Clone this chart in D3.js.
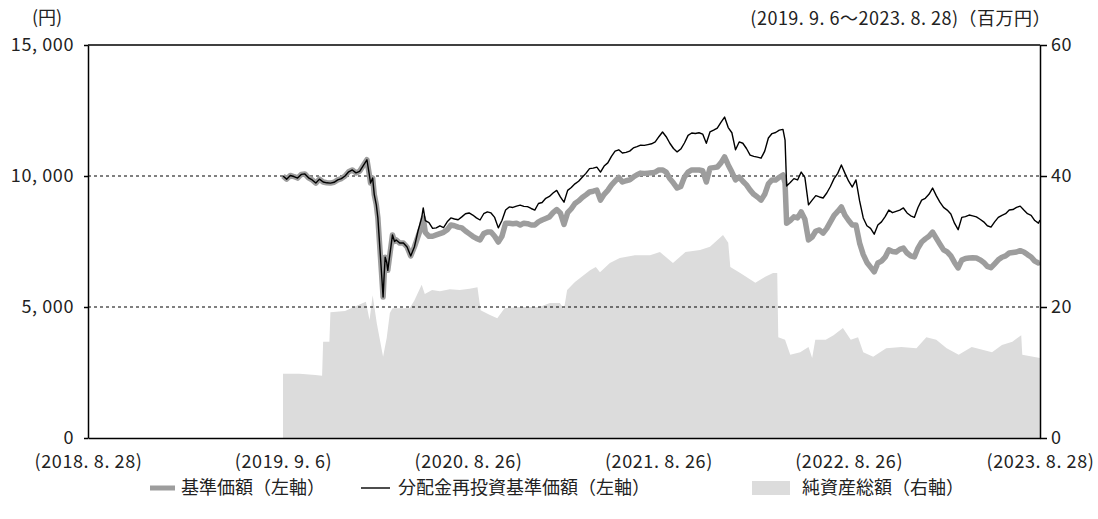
<!DOCTYPE html>
<html>
<head>
<meta charset="utf-8">
<script src="https://cdn.jsdelivr.net/npm/d3@7"></script>
<style>
  body { margin: 0; background: #fff; }
  text { font-family: "Noto Sans CJK JP", "Noto Sans", sans-serif; fill: #222; }
</style>
</head>
<body>
<div id="chart-area"></div>
<script>
// Weekly 基準価額 / 分配金再投資基準価額 (yen)
const navDates = [
  "2019-09-06","2019-09-13","2019-09-20","2019-09-27",
  "2019-10-04","2019-10-11","2019-10-18","2019-10-25",
  "2019-11-01","2019-11-08","2019-11-15","2019-11-22","2019-11-29",
  "2019-12-06","2019-12-13","2019-12-20","2019-12-27",
  "2020-01-03","2020-01-10","2020-01-17","2020-01-24","2020-01-31",
  "2020-02-07","2020-02-14","2020-02-19","2020-02-21","2020-02-25","2020-02-28",
  "2020-03-03","2020-03-06","2020-03-10","2020-03-13","2020-03-16","2020-03-18","2020-03-20","2020-03-23","2020-03-25","2020-03-27","2020-03-31",
  "2020-04-03","2020-04-07","2020-04-10","2020-04-17","2020-04-24",
  "2020-05-01","2020-05-08","2020-05-15","2020-05-22","2020-05-29",
  "2020-06-01","2020-06-05","2020-06-12","2020-06-19","2020-06-26",
  "2020-07-03","2020-07-10","2020-07-17","2020-07-24","2020-07-31",
  "2020-08-07","2020-08-14","2020-08-21","2020-08-28",
  "2020-09-04","2020-09-11","2020-09-18","2020-09-25",
  "2020-10-02","2020-10-09","2020-10-16","2020-10-23","2020-10-30",
  "2020-11-06","2020-11-13","2020-11-20","2020-11-27",
  "2020-12-04","2020-12-11","2020-12-18","2020-12-25",
  "2021-01-01","2021-01-08","2021-01-15","2021-01-22","2021-01-29",
  "2021-02-05","2021-02-12","2021-02-19","2021-02-26",
  "2021-03-05","2021-03-12","2021-03-19","2021-03-26",
  "2021-04-02","2021-04-09","2021-04-16","2021-04-23","2021-04-30",
  "2021-05-07","2021-05-14","2021-05-21","2021-05-28",
  "2021-06-04","2021-06-11","2021-06-18","2021-06-25",
  "2021-07-02","2021-07-09","2021-07-16","2021-07-23","2021-07-30",
  "2021-08-06","2021-08-13","2021-08-20","2021-08-27",
  "2021-09-03","2021-09-10","2021-09-17","2021-09-24",
  "2021-10-01","2021-10-08","2021-10-15","2021-10-22","2021-10-29",
  "2021-11-05","2021-11-12","2021-11-19","2021-11-26",
  "2021-12-03","2021-12-10","2021-12-17","2021-12-24","2021-12-31",
  "2022-01-07","2022-01-14","2022-01-21","2022-01-28",
  "2022-02-04","2022-02-11","2022-02-18","2022-02-25",
  "2022-03-04","2022-03-11","2022-03-18","2022-03-25",
  "2022-04-01","2022-04-08","2022-04-15","2022-04-22","2022-04-26","2022-04-29",
  "2022-05-06","2022-05-13","2022-05-20","2022-05-27",
  "2022-06-03","2022-06-10","2022-06-17","2022-06-24",
  "2022-07-01","2022-07-08","2022-07-15","2022-07-22","2022-07-29",
  "2022-08-05","2022-08-12","2022-08-19","2022-08-26",
  "2022-09-02","2022-09-09","2022-09-16","2022-09-23","2022-09-30",
  "2022-10-07","2022-10-14","2022-10-21","2022-10-28",
  "2022-11-04","2022-11-11","2022-11-18","2022-11-25",
  "2022-12-02","2022-12-09","2022-12-16","2022-12-23","2022-12-30",
  "2023-01-06","2023-01-13","2023-01-20","2023-01-27",
  "2023-02-03","2023-02-10","2023-02-17","2023-02-24",
  "2023-03-03","2023-03-10","2023-03-17","2023-03-24","2023-03-31",
  "2023-04-07","2023-04-14","2023-04-21","2023-04-28",
  "2023-05-05","2023-05-12","2023-05-19","2023-05-26",
  "2023-06-02","2023-06-09","2023-06-16","2023-06-23","2023-06-30",
  "2023-07-07","2023-07-14","2023-07-21","2023-07-28",
  "2023-08-04","2023-08-11","2023-08-18","2023-08-25","2023-08-28"
];

// 分配金再投資基準価額
const reinvested = [
  10000, 9880, 10020, 9980,
  9920, 10060, 10080, 9930,
  9850, 9730, 9880, 9770, 9740,
  9730, 9760, 9850, 9900,
  10000, 10160, 10230, 10120, 10180,
  10400, 10620, 10000, 9730, 9920, 9300,
  8900, 8400, 7200, 6300, 5380, 6200, 6900, 6700, 6400, 6700, 7300,
  7750, 7500, 7560, 7440, 7440,
  7290, 6950, 7290, 7900, 8400,
  8780, 8300, 8220, 8000, 8020,
  8100, 8030, 8250, 8400, 8360,
  8330, 8440, 8560, 8590,
  8510, 8400, 8320, 8560,
  8630, 8590, 8420, 8020, 8300,
  8700, 8820, 8800, 8850,
  8890, 8840, 8830, 8760,
  8700, 8950, 8990, 9150, 9220,
  9350, 9450, 9200, 9000,
  9450, 9560, 9700, 9800,
  9950, 10100, 10280, 10300, 10340,
  10150, 10380, 10500, 10750,
  10950, 11000, 10880, 10900,
  10950, 11070, 11120, 11180, 11170,
  11200, 11230, 11300, 11500,
  11680, 11500, 11250, 11050,
  10920, 11030, 11260, 11550, 11640,
  11620, 11650, 11600, 11250,
  11680, 11750, 11830, 12050, 12250,
  11850, 11650, 11000, 11300,
  11250, 11050, 10800, 10750,
  10720, 10680, 10950, 11450,
  11620, 11660, 11750, 11780, 11370, 9620,
  9750, 9900, 9850, 10150,
  9950, 8900, 9080, 9250,
  9200, 9160, 9350, 9600, 9900,
  10100, 10420, 10100, 9800,
  9580, 9850, 9050, 8400, 8100,
  8000, 7780, 8130, 8250,
  8450, 8700, 8600, 8650,
  8700, 8780, 8590, 8480, 8420,
  8800, 9080, 9150, 9300,
  9540, 9250, 9000, 8800,
  8700, 8550, 8200, 7950, 8420,
  8450, 8510, 8480, 8440,
  8350, 8250, 8100, 8050,
  8250, 8420, 8500, 8560, 8700,
  8720, 8800, 8850, 8700,
  8560, 8500, 8300, 8200, 8320
];

// 基準価額
const nav = [
  10000, 9880, 10020, 9980,
  9920, 10060, 10080, 9930,
  9850, 9730, 9880, 9770, 9740,
  9730, 9760, 9850, 9900,
  10000, 10160, 10230, 10120, 10180,
  10400, 10620, 10000, 9730, 9920, 9300,
  8900, 8400, 7200, 6300, 5380, 6200, 6900, 6700, 6400, 6700, 7300,
  7750, 7500, 7560, 7440, 7440,
  7290, 6950, 7290, 7700, 8100,
  8400, 7850, 7700, 7700, 7750,
  7800, 7850, 7950, 8130, 8100,
  8050, 8020, 7900, 7800,
  7700, 7620, 7560, 7800,
  7860, 7860, 7700, 7480, 7700,
  8200, 8200, 8180, 8200,
  8130, 8200, 8180, 8130,
  8130, 8250, 8320, 8380, 8440,
  8600, 8720, 8590, 8150,
  8600, 8750, 8950, 9050,
  9180, 9280, 9390, 9420, 9460,
  9080, 9300, 9450, 9650,
  9800, 9950, 9770, 9820,
  9850, 9960, 10050, 10110, 10100,
  10110, 10120, 10150, 10230,
  10230, 10150, 9900, 9730,
  9540, 9600, 9960, 10150, 10230,
  10230, 10230, 10200, 9770,
  10300, 10320, 10340, 10500, 10730,
  10420, 10150, 9850, 9960,
  9800, 9660, 9460, 9300,
  9200, 9080, 9300, 9700,
  9850, 9850, 9950, 10040, 9730, 8200,
  8300, 8440, 8400, 8630,
  8350, 7560, 7670, 7900,
  7940, 7820, 8000, 8250, 8500,
  8650, 8820, 8500, 8300,
  8130, 8130, 7440, 7000, 6700,
  6520, 6340, 6680, 6750,
  6900, 7180, 7120, 7100,
  7200, 7250, 7060, 6950, 6910,
  7250, 7480, 7600, 7700,
  7860, 7630, 7400, 7180,
  7100, 6950, 6700, 6490, 6790,
  6850, 6870, 6880, 6870,
  6800, 6700, 6550, 6500,
  6650, 6800, 6900, 6950, 7060,
  7080, 7100, 7150, 7100,
  7000, 6910, 6750, 6680, 6700
];

// 純資産総額 (百万円)
const assetDates = [
  "2019-09-06","2019-10-08","2019-11-07","2019-11-20","2019-11-22","2019-12-04","2019-12-06",
  "2020-01-03","2020-01-31","2020-02-12","2020-02-19","2020-02-25","2020-03-04","2020-03-16",
  "2020-03-23","2020-03-29","2020-04-03","2020-04-17","2020-05-06","2020-05-15","2020-05-29",
  "2020-06-04","2020-06-18","2020-07-03","2020-07-22","2020-08-10","2020-08-29","2020-09-13",
  "2020-09-19","2020-10-06","2020-10-21","2020-11-04","2020-12-03","2021-01-10","2021-01-30",
  "2021-02-18","2021-02-26","2021-03-04","2021-03-19","2021-04-17","2021-04-28","2021-05-06",
  "2021-05-25","2021-06-13","2021-07-12","2021-08-10","2021-08-29","2021-09-23","2021-10-17",
  "2021-11-14","2021-12-03","2021-12-28","2022-01-07","2022-01-11","2022-01-30","2022-02-28",
  "2022-03-19","2022-04-03","2022-04-11","2022-04-13","2022-04-26","2022-05-06","2022-05-25",
  "2022-06-10","2022-06-17","2022-06-23","2022-07-13","2022-07-28","2022-08-15","2022-08-30",
  "2022-09-13","2022-09-23","2022-10-12","2022-11-06","2022-12-05","2023-01-03","2023-01-22",
  "2023-02-10","2023-03-02","2023-03-25","2023-04-19","2023-05-28","2023-06-16","2023-07-06",
  "2023-07-23","2023-07-25","2023-08-28"
];
const assets = [
  9.8, 9.8, 9.6, 9.5, 14.7, 14.7, 19.2,
  19.4, 20.4, 20.8, 18.0, 21.8, 17.5, 12.4,
  15.3, 19.1, 19.8, 19.8, 19.8, 21.0, 23.4,
  22.0, 22.6, 22.4, 22.7, 22.6, 22.8, 23.0,
  19.5, 18.8, 18.3, 19.8, 20.0, 20.0, 20.6,
  20.6, 19.7, 22.6, 23.8, 25.6, 26.1, 25.3,
  26.7, 27.5, 27.9, 27.9, 28.4, 26.7, 28.4,
  28.7, 29.2, 31.0, 29.8, 26.1, 25.2, 23.7,
  24.6, 25.2, 25.2, 15.4, 15.0, 12.7, 13.1,
  13.9, 12.2, 15.0, 15.0, 15.7, 16.8, 15.0,
  15.4, 13.1, 12.4, 13.7, 13.9, 13.7, 15.4,
  15.0, 13.7, 12.7, 13.9, 13.1, 14.2, 14.7,
  15.7, 12.7, 12.2
];

// Axis ticks
const leftTicks = [0, 5000, 10000, 15000];
const leftLabels = ["0", "5, 000", "10, 000", "15, 000"];
const rightTicks = [0, 20, 40, 60];
const xTickDates = ["2018-08-28", "2019-09-06", "2020-08-26", "2021-08-26", "2022-08-26", "2023-08-28"];
const xTickLabels = ["(2018. 8. 28)", "(2019. 9. 6)", "(2020. 8. 26)", "(2021. 8. 26)", "(2022. 8. 26)", "(2023. 8. 28)"];

const parse = d3.timeParse("%Y-%m-%d");

const svg = d3.select('#chart-area')
  .append('svg')
    .attr('width', 1098)
    .attr('height', 519);

const margin = { left: 88, right: 58, top: 45, bottom: 81 };
const width = 1098 - margin.left - margin.right;
const height = 519 - margin.top - margin.bottom;

const area = svg.append('g')
  .attr('transform', 'translate(' + margin.left + ',' + margin.top + ')');

// Scales
const x = d3.scaleTime()
  .domain([parse("2018-08-28"), parse("2023-08-28")])
  .range([0, width]);

const yLeft = d3.scaleLinear().domain([0, 15000]).range([height, 0]);
const yRight = d3.scaleLinear().domain([0, 60]).range([height, 0]);

// Net assets area
const assetData = assetDates.map((d, i) => ({ date: parse(d), value: assets[i] }));
area.append('path')
  .datum(assetData)
  .attr('fill', '#dcdcdc')
  .attr('d', d3.area()
    .x(d => x(d.date))
    .y0(yRight(0))
    .y1(d => yRight(d.value)));

// Dashed grid
area.selectAll('.grid')
  .data([5000, 10000])
  .enter().append('line')
    .attr('x1', 0).attr('x2', width)
    .attr('y1', d => yLeft(d)).attr('y2', d => yLeft(d))
    .attr('stroke', '#000')
    .attr('stroke-width', 1)
    .attr('stroke-dasharray', '3,3');

// Lines
const navData = navDates.map((d, i) => ({ date: parse(d), nav: nav[i], re: reinvested[i] }));

area.append('path')
  .datum(navData)
  .attr('fill', 'none')
  .attr('stroke', '#9d9d9d')
  .attr('stroke-width', 5.5)
  .attr('stroke-linejoin', 'round')
  .attr('d', d3.line().x(d => x(d.date)).y(d => yLeft(d.nav)));

area.append('path')
  .datum(navData)
  .attr('fill', 'none')
  .attr('stroke', '#000')
  .attr('stroke-width', 1.4)
  .attr('stroke-linejoin', 'round')
  .attr('d', d3.line().x(d => x(d.date)).y(d => yLeft(d.re)));

// Frame top
area.append('line')
  .attr('x1', 0).attr('x2', width)
  .attr('y1', 0).attr('y2', 0)
  .attr('stroke', '#000').attr('stroke-width', 1.5);

// Axes
const yLeftAxis = d3.axisLeft(yLeft)
  .tickValues(leftTicks)
  .tickFormat((d, i) => leftLabels[i])
  .tickSize(4)
  .tickSizeOuter(0)
  .tickPadding(10);
const gl = area.append('g').call(yLeftAxis);

const yRightAxis = d3.axisRight(yRight)
  .tickValues(rightTicks)
  .tickSize(7)
  .tickSizeOuter(0)
  .tickPadding(4);
const gr = area.append('g')
  .attr('transform', 'translate(' + width + ',0)')
  .call(yRightAxis);

const xAxis = d3.axisBottom(x)
  .tickValues(xTickDates.map(parse))
  .tickFormat((d, i) => xTickLabels[i])
  .tickSize(0)
  .tickSizeOuter(0)
  .tickPadding(17);
const gx = area.append('g')
  .attr('transform', 'translate(0,' + height + ')')
  .call(xAxis);

[gl, gr, gx].forEach(g => {
  g.select('.domain').attr('stroke', '#000').attr('stroke-width', 1.5);
  g.selectAll('.tick line').attr('stroke', '#000').attr('stroke-width', 1.5);
  g.selectAll('text')
    .attr('font-family', '"Noto Sans CJK JP", sans-serif')
    .attr('font-size', '18px')
    .attr('letter-spacing', '0.6px')
    .attr('fill', '#222');
});

// Unit labels
svg.append('text')
  .attr('x', 47).attr('y', 24)
  .attr('text-anchor', 'middle')
  .attr('font-size', '18px')
  .text('(円)');

svg.append('text')
  .attr('x', 1051).attr('y', 25)
  .attr('text-anchor', 'end')
  .attr('font-size', '18px')
  .attr('letter-spacing', '0.5px')
  .text('(2019. 9. 6～2023. 8. 28)（百万円）');

// Legend
const legend = svg.append('g').attr('transform', 'translate(0,488)');

legend.append('line')
  .attr('x1', 150).attr('x2', 175).attr('y1', 0).attr('y2', 0)
  .attr('stroke', '#9d9d9d').attr('stroke-width', 5);
legend.append('text')
  .attr('x', 181).attr('y', 6)
  .attr('font-size', '18px')
  .text('基準価額（左軸）');

legend.append('line')
  .attr('x1', 361).attr('x2', 390).attr('y1', 0).attr('y2', 0)
  .attr('stroke', '#000').attr('stroke-width', 1.4);
legend.append('text')
  .attr('x', 398).attr('y', 6)
  .attr('font-size', '18px')
  .text('分配金再投資基準価額（左軸）');

legend.append('rect')
  .attr('x', 752).attr('y', -7).attr('width', 38).attr('height', 14)
  .attr('fill', '#dcdcdc');
legend.append('text')
  .attr('x', 802).attr('y', 6)
  .attr('font-size', '18px')
  .text('純資産総額（右軸）');
</script>
</body>
</html>
